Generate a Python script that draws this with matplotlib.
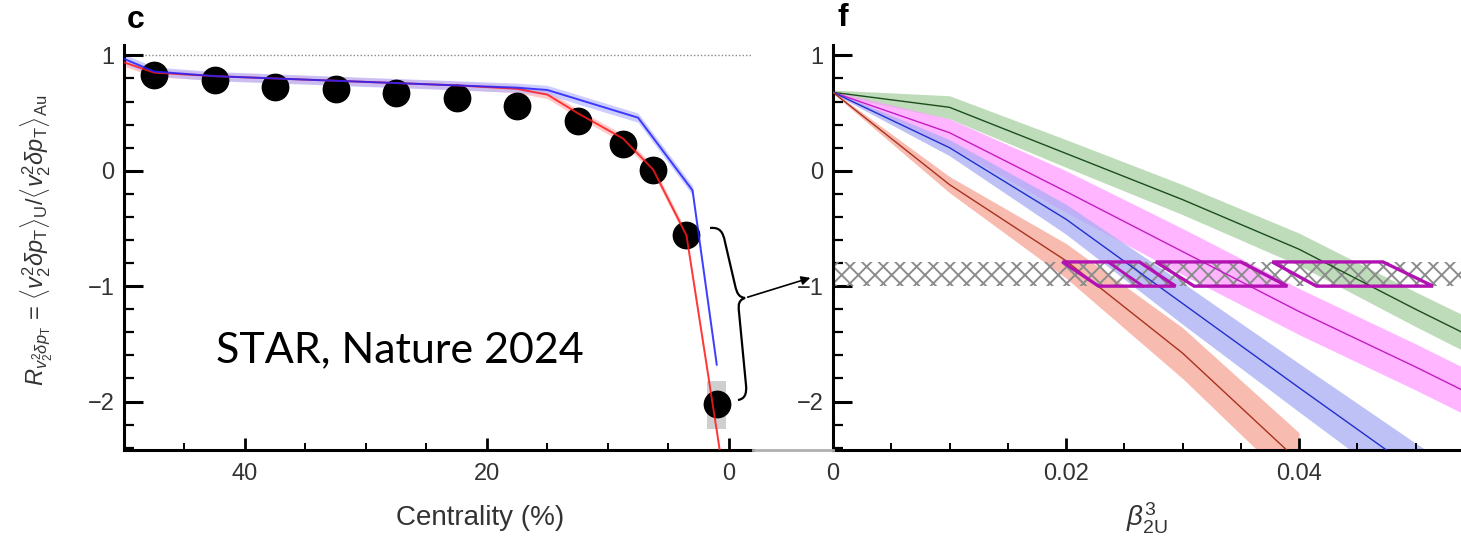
import numpy as np
import matplotlib
matplotlib.use("Agg")
import matplotlib.pyplot as plt
from matplotlib.ticker import MultipleLocator
from matplotlib.path import Path
from matplotlib.patches import PathPatch, FancyArrowPatch, Rectangle, Polygon

plt.rcParams['font.family'] = ['Liberation Sans', 'DejaVu Sans']
plt.rcParams['mathtext.fontset'] = 'custom'
plt.rcParams['mathtext.rm'] = 'Liberation Sans'
plt.rcParams['mathtext.it'] = 'Liberation Sans:italic'
plt.rcParams['mathtext.bf'] = 'Liberation Sans:bold'
plt.rcParams['hatch.linewidth'] = 1.4

# --- panel c: ratio vs centrality ---
cent = [47.5, 42.5, 37.5, 32.5, 27.5, 22.5, 17.5, 12.5, 8.75, 6.25, 3.5, 1.0]
ratio = [0.83, 0.79, 0.73, 0.71, 0.67, 0.63, 0.56, 0.43, 0.235, 0.01, -0.56, -2.02]
sys_lo = -2.24
sys_hi = -1.82

red_c = [50, 47.5, 42.5, 37.5, 32.5, 27.5, 22.5, 17.5, 15, 12.5, 8.75, 6.25, 3.5, 1.0, 0.5]
red_y = [0.94, 0.85, 0.82, 0.80, 0.78, 0.76, 0.74, 0.71, 0.66, 0.50, 0.28, 0.01, -0.56, -2.25, -2.6]
blue_c = [50, 47.5, 42.5, 37.5, 32.5, 27.5, 22.5, 17.5, 15, 7.5, 3.0, 1.0]
blue_y = [0.97, 0.86, 0.82, 0.80, 0.78, 0.76, 0.74, 0.72, 0.70, 0.46, -0.17, -1.68]

# --- panel f: ratio vs beta_2U^3 ---
beta = [0, 0.01, 0.02, 0.03, 0.04, 0.05, 0.06]
green = [0.68, 0.55, 0.15, -0.25, -0.68, -1.2, -1.7]
green_w = [0.02, 0.10, 0.12, 0.13, 0.14, 0.15, 0.16]
magenta = [0.68, 0.33, -0.18, -0.70, -1.22, -1.70, -2.2]
magenta_w = [0.01, 0.12, 0.18, 0.20, 0.20, 0.20, 0.20]
blue_f = [0.68, 0.20, -0.42, -1.15, -1.88, -2.6, -3.3]
blue_fw = [0.01, 0.07, 0.13, 0.18, 0.21, 0.24, 0.27]
beta_red = [0, 0.01, 0.02, 0.03, 0.04]
red_f = [0.68, -0.12, -0.78, -1.58, -2.52]
red_fw = [0.01, 0.07, 0.15, 0.22, 0.25]

data_band = (-1.0, -0.79)
# magenta boxes: (top-left, top-right, bottom-left, bottom-right) in beta
boxes = [(0.0197, 0.0263, 0.0228, 0.0294),
         (0.0277, 0.0350, 0.0310, 0.0390),
         (0.0377, 0.0472, 0.0415, 0.0515)]

W, H = 1461, 544
fig = plt.figure(figsize=(W / 100, H / 100), dpi=100)

def fx(px):
    return px / W

def fy(py):
    return 1 - py / H

bot = fy(450)
hgt = (450 - 45) / H
ax1 = fig.add_axes([fx(124), bot, fx(753) - fx(124), hgt])
ax2 = fig.add_axes([fx(833), bot, 1 - fx(833), hgt])

tick_col = '#333333'
for ax in (ax1, ax2):
    for s in ('top', 'right'):
        ax.spines[s].set_visible(False)
    for s in ('left', 'bottom'):
        ax.spines[s].set_linewidth(2.2)
    ax.set_ylim(-2.42, 1.09)
    ax.yaxis.set_major_locator(MultipleLocator(1))
    ax.yaxis.set_minor_locator(MultipleLocator(0.2))
    ax.tick_params(axis='both', which='both', direction='in', colors='black',
                   labelcolor=tick_col, labelsize=17)
    ax.tick_params(axis='y', which='major', length=14, width=2.2, pad=7)
    ax.tick_params(axis='y', which='minor', length=7, width=1.6)
    ax.tick_params(axis='x', which='major', length=9, width=2.0, pad=9)
    ax.tick_params(axis='x', which='minor', length=5, width=1.4)

# panel c
ax1.set_xlim(50, -2)
ax1.xaxis.set_major_locator(MultipleLocator(20))
ax1.xaxis.set_minor_locator(MultipleLocator(5))
ax1.axhline(1.0, color='#888888', ls=(0, (1, 1.5)), lw=1.0, zorder=1)

ax1.fill_between(red_c, np.array(red_y) - 0.035, np.array(red_y) + 0.035,
                 color='#ffb3b3', alpha=0.7, lw=0, zorder=1)
ax1.fill_between(blue_c, np.array(blue_y) - 0.04, np.array(blue_y) + 0.04,
                 color='#b8b8ff', alpha=0.7, lw=0, zorder=1)
ax1.add_patch(Rectangle((1.0 + 0.8, sys_lo), -1.6, sys_hi - sys_lo,
                        facecolor='#cfcfcf', edgecolor='none', zorder=2))
ax1.plot(cent, ratio, 'o', color='black', ms=19, zorder=3)
ax1.plot(red_c, red_y, color='#ff1a1a', lw=1.4, alpha=0.85, zorder=4)
ax1.plot(blue_c, blue_y, color='#2222ff', lw=1.4, alpha=0.85, zorder=4)

ax1.text(fx(216), fy(350), 'STAR, Nature 2024', transform=fig.transFigure,
         family='Lato', fontsize=31, ha='left', va='center', color='black')

# panel f
ax2.set_xlim(0, 0.0539)
ax2.xaxis.set_major_locator(MultipleLocator(0.02))
ax2.xaxis.set_minor_locator(MultipleLocator(0.005))
ax2.set_xticks([0, 0.02, 0.04])
ax2.set_xticklabels(['0', '0.02', '0.04'])

curves = [(beta, green, green_w, '#a9d1a3', '#1d4d1d'),
          (beta, magenta, magenta_w, '#ff9cff', '#c41cc4'),
          (beta, blue_f, blue_fw, '#a9adf3', '#1f2fcf'),
          (beta_red, red_f, red_fw, '#f6a596', '#a8321e')]
for bx, by, bw, band_col, line_col in curves:
    by = np.array(by)
    bw = np.array(bw)
    ax2.fill_between(bx, by - bw, by + bw, color=band_col, alpha=0.75, lw=0, zorder=1)

ax2.fill_between([0, 0.06], data_band[0], data_band[1], facecolor='none',
                 edgecolor='#8c8c8c', hatch='xx', lw=0, zorder=2)

for bx, by, bw, band_col, line_col in curves:
    ax2.plot(bx, by, color=line_col, lw=1.0, zorder=3)

for tl, tr, bl, br in boxes:
    ax2.add_patch(Polygon([(tl, data_band[1]), (tr, data_band[1]),
                           (br, data_band[0]), (bl, data_band[0])],
                          closed=True, fill=False, edgecolor='#b312b3',
                          lw=2.4, zorder=4))
ax2.plot([0.0236, 0.0266], [data_band[1], data_band[0]], color='#b312b3', lw=2.0, zorder=4)

# labels
fig.text(fx(37), fy(240),
         r'$R_{v_2^2\delta p_\mathrm{T}}$ = $\langle v_2^2\delta p_\mathrm{T}\rangle_\mathrm{U}'
         r'/\langle v_2^2\delta p_\mathrm{T}\rangle_\mathrm{Au}$',
         rotation=90, ha='center', va='center', fontsize=17, color=tick_col)
fig.text(fx(480), fy(518), 'Centrality (%)', ha='center', va='center',
         fontsize=20, color=tick_col)
fig.text(fx(1147), fy(518), r'$\beta_{2\mathrm{U}}^{3}$', ha='center', va='center',
         fontsize=20, color=tick_col)
fig.text(fx(136), fy(20), 'c', ha='center', va='center', fontsize=23,
         fontweight='bold', color='black')
fig.text(fx(843), fy(18), 'f', ha='center', va='center', fontsize=23,
         fontweight='bold', color='black')

# faint continuation of the left x axis
fig.add_artist(plt.Line2D([fx(753), fx(833)], [fy(450), fy(450)],
                          color='#b0b0b0', lw=2.0))

# curly brace from the central points, with an arrow to the data band
brace_px = [(710, 228), (720, 227), (723, 232), (725, 242), (735, 285),
            (737, 294), (739, 297), (745, 298), (739, 300), (738, 304),
            (739, 312), (746, 385), (747, 395), (744, 399), (738, 400)]
codes = [Path.MOVETO, Path.CURVE4, Path.CURVE4, Path.CURVE4, Path.LINETO,
         Path.CURVE4, Path.CURVE4, Path.CURVE4, Path.CURVE4, Path.CURVE4,
         Path.CURVE4, Path.LINETO, Path.CURVE4, Path.CURVE4, Path.CURVE4]
brace = Path([(fx(x), fy(y)) for x, y in brace_px], codes)
fig.add_artist(PathPatch(brace, transform=fig.transFigure, fill=False,
                         edgecolor='black', lw=1.6))
fig.add_artist(FancyArrowPatch((fx(745), fy(298)), (fx(813), fy(277)),
                               transform=fig.transFigure, arrowstyle='-|>',
                               mutation_scale=13, color='black', lw=1.2))

fig.savefig('out.png', dpi=100)
